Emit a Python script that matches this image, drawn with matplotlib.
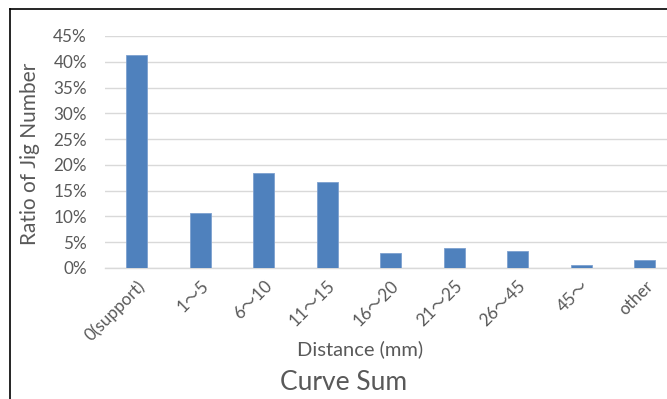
import matplotlib
matplotlib.use("Agg")
import matplotlib.pyplot as plt
from matplotlib.lines import Line2D
from matplotlib.ticker import FuncFormatter, MultipleLocator

categories = ["0(support)", "1\uff5e5", "6\uff5e10", "11\uff5e15", "16\uff5e20",
              "21\uff5e25", "26\uff5e45", "45\uff5e", "other"]
values = [0.414, 0.106, 0.184, 0.167, 0.029, 0.039, 0.033, 0.005, 0.016]

plt.rcParams['font.family'] = ['Lato', 'Noto Sans CJK JP', 'DejaVu Sans']

W, H = 667, 399
fig = plt.figure(figsize=(W / 100, H / 100), dpi=100)
left, right = 105, 676.5
bottom, top = 268, 36
ax = fig.add_axes([left / W, (H - bottom) / H, (right - left) / W, (bottom - top) / H])

x = list(range(len(categories)))
ax.bar(x, values, width=0.33, color="#4F81BD", edgecolor="#7DA0CF", linewidth=0.6, zorder=3)
ax.set_xlim(-0.5, len(categories) - 0.5)
ax.set_ylim(0, 0.45)
ax.yaxis.set_major_locator(MultipleLocator(0.05))
ax.yaxis.set_major_formatter(FuncFormatter(lambda v, p: f"{round(v * 100)}%"))
ax.grid(axis="y", color="#D9D9D9", linewidth=1.0, zorder=0)
for s in ["top", "right", "left"]:
    ax.spines[s].set_visible(False)
ax.spines["bottom"].set_color("#D9D9D9")
ax.spines["bottom"].set_linewidth(1.0)
ax.tick_params(axis="both", length=0, colors="#595959", labelsize=12.3)
ax.tick_params(axis="y", pad=13)
ax.set_xticks(x)
ax.set_xticklabels(categories, rotation=45, ha="right", rotation_mode="anchor")
ax.tick_params(axis="x", pad=7)

fig.text(30 / W, 1 - 154 / H, "Ratio of Jig Number", rotation=90, ha="center", va="center",
         fontsize=15, color="#595959")
fig.text(360 / W, 1 - 349 / H, "Distance (mm)", ha="center", va="center",
         fontsize=14.5, color="#595959")
fig.text(344 / W, 1 - 382 / H, "Curve Sum", ha="center", va="center",
         fontsize=19, color="#595959")

# chart border (cropped on right and bottom)
fig.add_artist(Line2D([10 / W, 10 / W], [0, 1 - 9 / H], transform=fig.transFigure,
                      color="#000000", linewidth=1.2))
fig.add_artist(Line2D([10 / W, 1], [1 - 9 / H, 1 - 9 / H], transform=fig.transFigure,
                      color="#000000", linewidth=1.2))

fig.savefig("out.png", dpi=100)
